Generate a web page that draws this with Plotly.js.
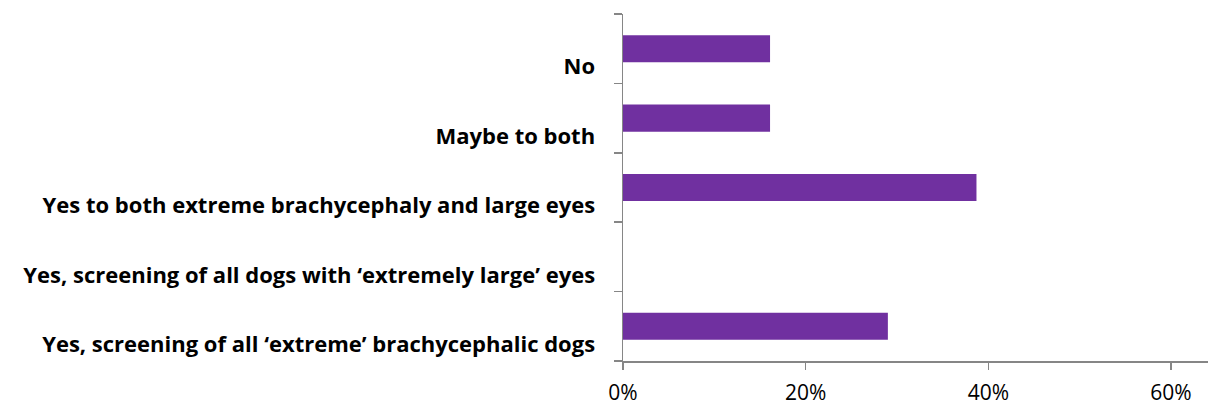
<!DOCTYPE html>
<html>
<head>
<meta charset="utf-8">
<script src="https://cdn.plot.ly/plotly-3.0.1.min.js"></script>
<style>html,body{margin:0;padding:0;background:#fff;}#chart{width:1208px;height:407px;}</style>
</head>
<body>
<div id="chart"></div>
<script>
var categories = [
  "Yes, screening of all \u2018extreme\u2019 brachycephalic dogs",
  "Yes, screening of all dogs with \u2018extremely large\u2019 eyes",
  "Yes to both extreme brachycephaly and large eyes",
  "Maybe to both",
  "No"
];
var values = [0.290, 0.0, 0.387, 0.161, 0.161];
var tickValues = [0, 0.2, 0.4, 0.6];
var tickLabels = ["0%", "20%", "40%", "60%"];

Plotly.newPlot("chart", [{
  type: "bar",
  orientation: "h",
  y: categories,
  x: values,
  width: 0.39,
  marker: {color: "#7030A0"},
  hoverinfo: "x+y"
}], {
  width: 1208, height: 407,
  margin: {l: 623, r: 0, t: 14, b: 46, pad: 0},
  paper_bgcolor: "#ffffff",
  plot_bgcolor: "#ffffff",
  showlegend: false,
  bargap: 0.61,
  xaxis: {
    range: [0, 0.6405],
    tickvals: tickValues,
    ticktext: tickLabels,
    showgrid: false,
    zeroline: false,
    showline: true,
    linecolor: "#868686",
    linewidth: 1.5,
    ticks: "outside",
    ticklen: 7,
    tickcolor: "#868686",
    tickwidth: 1.5,
    ticklabelstandoff: 5,
    tickfont: {family: "'Open Sans', sans-serif", size: 21, color: "#000"},
    fixedrange: true
  },
  yaxis: {
    type: "category",
    categoryorder: "array",
    categoryarray: categories,
    range: [-0.5, 4.5],
    showgrid: false,
    zeroline: false,
    showline: true,
    linecolor: "#868686",
    linewidth: 1.5,
    ticks: "outside",
    tickson: "boundaries",
    ticklen: 8,
    tickcolor: "#868686",
    tickwidth: 1.5,
    ticklabelshift: 18,
    ticklabelstandoff: 22,
    tickfont: {family: "'Open Sans', sans-serif", size: 22, color: "#000", weight: "bold"},
    fixedrange: true
  }
}, {displayModeBar: false, staticPlot: true});
</script>
</body>
</html>
